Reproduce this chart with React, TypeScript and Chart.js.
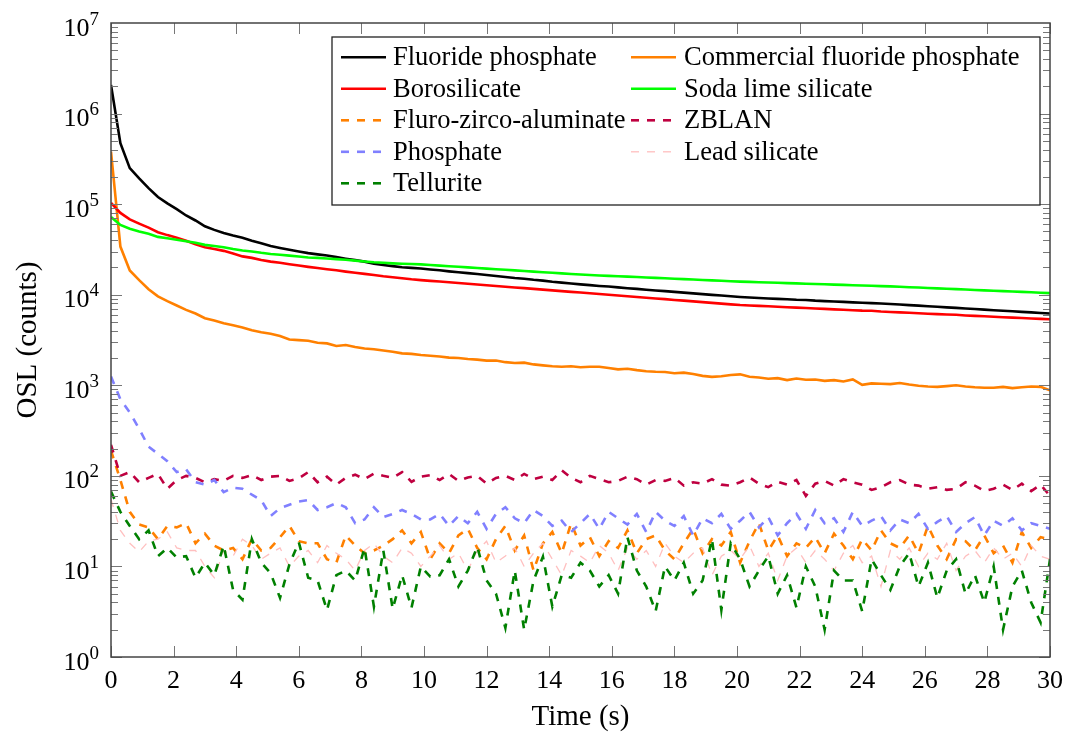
import React, { useEffect, useRef } from 'react';
import { Chart, registerables } from 'chart.js';

Chart.register(...registerables);

const FONT = "'Liberation Serif', 'Times New Roman', serif";

// sample times (s), one reading every 0.3 s
const TIME_S: number[] = Array.from({ length: 101 }, (_, i) => Math.round(i * 3) / 10);
const X_TICKS = [0, 2, 4, 6, 8, 10, 12, 14, 16, 18, 20, 22, 24, 26, 28, 30];
const Y_EXPONENTS = [0, 1, 2, 3, 4, 5, 6, 7];

const fluoridePhosphate = [
  2070000, 470000, 250000, 192000, 150000, 120000, 102000, 88000, 75000, 66000,
  57000, 52000, 48000, 45000, 42500, 39500, 37000, 34500, 32800, 31300,
  30000, 28800, 27900, 27100, 26000, 25000, 24100, 23200, 22000, 21300,
  20700, 20100, 19800, 19500, 19000, 18600, 18100, 17700, 17300, 16900,
  16500, 16100, 15700, 15300, 15000, 14600, 14300, 13900, 13600, 13300,
  13000, 12750, 12500, 12300, 12050, 11800, 11600, 11350, 11150, 10950,
  10750, 10550, 10350, 10150, 9950, 9800, 9600, 9450, 9300, 9200,
  9100, 9000, 8900, 8800, 8750, 8600, 8500, 8420, 8330, 8240,
  8150, 8070, 8000, 7900, 7790, 7680, 7570, 7460, 7350, 7250,
  7150, 7050, 6950, 6850, 6750, 6650, 6560, 6470, 6380, 6290,
  6200,
];

const commercialFluoridePhosphate = [
  380000, 34000, 18500, 14500, 11500, 9600, 8500, 7600, 6800, 6200,
  5500, 5200, 4850, 4600, 4350, 4050, 3850, 3700, 3500, 3200,
  3150, 3100, 2950, 2900, 2720, 2780, 2650, 2550, 2500, 2420,
  2350, 2250, 2220, 2160, 2120, 2080, 2020, 2000, 1950, 1920,
  1870, 1880, 1800, 1760, 1780, 1700, 1660, 1620, 1600, 1620,
  1580, 1600, 1600, 1550, 1500, 1520, 1470, 1430, 1410, 1400,
  1360, 1380, 1330, 1270, 1240, 1260, 1300, 1320, 1240, 1220,
  1180, 1200, 1140, 1190, 1150, 1160, 1120, 1140, 1100, 1160,
  1010, 1050, 1040, 1030, 1060, 1020, 990, 970, 960, 980,
  1000, 970, 950, 940, 940, 960, 930, 950, 970, 960,
  880,
];

const borosilicate = [
  103000, 80000, 68000, 61000, 55000, 49000, 45500, 42500, 39500, 36000,
  33500, 32000, 30500, 28500, 26500, 25500, 24200, 23200, 22500, 21700,
  21000, 20300, 19700, 19100, 18600, 18000, 17500, 17000, 16500, 16000,
  15600, 15200, 14800, 14500, 14230, 13970, 13710, 13460, 13210, 12960,
  12720, 12490, 12260, 12030, 11810, 11590, 11380, 11170, 10960, 10760,
  10560, 10360, 10170, 9980, 9800, 9620, 9440, 9270, 9100, 8930,
  8760, 8600, 8440, 8290, 8130, 7980, 7830, 7700, 7615, 7531,
  7448, 7366, 7285, 7205, 7126, 7048, 6970, 6893, 6818, 6743,
  6668, 6640, 6522, 6451, 6380, 6310, 6240, 6172, 6104, 6037,
  6000, 5905, 5840, 5776, 5712, 5649, 5587, 5526, 5465, 5405,
  5350,
];

const sodaLimeSilicate = [
  72000, 59000, 53500, 50000, 47000, 43500, 42000, 40500, 39000, 37500,
  35500, 34500, 33500, 32000, 30800, 30000, 29000, 28200, 27600, 27000,
  26400, 25800, 25500, 25100, 24700, 24300, 23800, 23300, 22800, 22500,
  22200, 22000, 21800, 21600, 21270, 20950, 20640, 20330, 20020, 19720,
  19420, 19130, 18840, 18560, 18280, 18000, 17730, 17460, 17200, 16940,
  16700, 16500, 16330, 16160, 15990, 15820, 15660, 15500, 15330, 15170,
  15010, 14860, 14700, 14550, 14400, 14250, 14100, 13950, 13850, 13740,
  13640, 13530, 13430, 13330, 13230, 13130, 13030, 12930, 12830, 12730,
  12640, 12540, 12450, 12350, 12230, 12110, 11990, 11870, 11750, 11630,
  11520, 11400, 11290, 11180, 11070, 10960, 10850, 10740, 10630, 10530,
  10400,
];

const fluroZircoAluminate = [
  190, 90, 40, 29, 27, 20, 28, 27, 30, 18,
  23, 17, 15, 16, 12, 20, 15, 16, 21, 28,
  19, 18, 18, 12, 11, 22, 17, 14, 15, 17,
  20, 25, 18, 24, 12, 18, 14, 22, 26, 16,
  12, 20, 28, 15, 22, 9, 18, 24, 14, 30,
  17, 21, 13, 19, 16, 25, 14, 20, 22, 15,
  12, 18, 26, 14, 20, 17, 24, 11, 19, 30,
  15, 22, 13, 18, 16, 21, 14, 23, 17, 12,
  20, 15, 25, 18, 16, 22, 14, 28, 17, 12,
  20, 19, 15, 22, 14, 17, 11, 24, 16, 21,
  20,
];

const zblan = [
  220, 100, 110, 85, 95, 105, 72, 90, 100, 95,
  85, 92, 88, 100, 95, 102, 90, 98, 100, 88,
  94, 110, 85, 98, 80, 95, 103, 92, 106, 100,
  95, 110, 86, 98, 102, 90, 105, 88, 96, 100,
  82, 95, 100, 90, 105, 92, 98, 90, 115, 95,
  85, 100, 92, 85, 88, 98, 92, 80, 90, 88,
  95, 78, 85, 82, 92, 80, 78, 85, 96, 82,
  75, 86, 80, 90, 60, 82, 88, 78, 92, 85,
  80, 70, 75, 85, 90, 80, 78, 72, 75, 70,
  72, 85, 78, 68, 72, 80, 70, 82, 68, 80,
  60,
];

const phosphate = [
  1250, 700, 500, 330, 210, 175, 145, 110, 118, 85,
  80, 90, 66, 74, 72, 62, 54, 36, 44, 48,
  52, 54, 42, 45, 50, 45, 30, 33, 45, 35,
  38, 42, 38, 33, 33, 38, 28, 36, 30, 40,
  26, 38, 45, 34, 30, 42, 36, 28, 32, 24,
  30, 38, 26, 40, 34, 29, 38, 24, 40, 32,
  28, 36, 22, 34, 30, 38, 26, 32, 40, 27,
  35, 22, 30, 38, 26, 42, 30, 34, 24, 40,
  28, 32, 36, 25, 33, 30, 38, 26, 31, 36,
  24, 30, 35, 22, 32, 28, 34, 25, 30, 28,
  26,
];

const leadSilicate = [
  55, 25, 18, 14.5, 19, 20, 24, 16, 15, 15,
  10, 7.5, 15, 13, 20, 17, 12, 14, 16, 10,
  13, 15, 11, 17, 14, 12, 9, 15, 18, 13,
  11, 16, 14, 10, 13, 17, 12, 14, 9, 15,
  19, 11, 13, 16, 10, 14, 18, 12, 8, 15,
  13, 11, 17, 14, 9, 16, 12, 15, 10, 18,
  13, 11, 14, 16, 8, 13, 15, 12, 17, 10,
  14, 7, 13, 16, 11, 15, 12, 9, 14, 17,
  11, 13, 6, 15, 12, 16, 10, 14, 12, 18,
  9, 13, 15, 11, 16, 12, 14, 10, 17, 13,
  12,
];

const tellurite = [
  67, 40, 28, 20, 25, 13, 16, 12.5, 13, 7.5,
  11, 8, 17, 5.5, 4.3, 20, 11, 8.4, 4.5, 10.5,
  18.5, 7.5, 7, 3.3, 8, 9, 7, 16, 3.6, 15,
  3.4, 8, 3.5, 10, 7.7, 8, 12, 6, 9, 16.5,
  7, 5, 2.1, 9, 2.0, 7, 12.8, 3.6, 8, 7.5,
  11, 9, 6, 8, 5, 21, 9, 6, 3.2, 10,
  7, 11, 5, 7, 20, 3.3, 18, 12, 6, 9,
  13, 5, 8, 3.5, 10, 6, 2.0, 9, 7, 7,
  3.2, 12, 8, 5.5, 10, 14, 6, 11, 4.5, 9,
  12, 5, 8, 4, 10, 2.0, 6, 9, 4, 2.4,
  12,
];

type Series = { label: string; values: number[]; color: string; dash: number[]; width: number };

const DASH = [8, 8];
const SERIES: Series[] = [
  { label: 'Fluoride phosphate', values: fluoridePhosphate, color: '#000000', dash: [], width: 2.6 },
  { label: 'Commercial fluoride phosphate', values: commercialFluoridePhosphate, color: '#ff8000', dash: [], width: 2.6 },
  { label: 'Borosilicate', values: borosilicate, color: '#ff0000', dash: [], width: 2.6 },
  { label: 'Soda lime silicate', values: sodaLimeSilicate, color: '#00ff00', dash: [], width: 2.6 },
  { label: 'Fluro-zirco-aluminate', values: fluroZircoAluminate, color: '#ff8000', dash: DASH, width: 2.6 },
  { label: 'ZBLAN', values: zblan, color: '#bf0040', dash: DASH, width: 2.6 },
  { label: 'Phosphate', values: phosphate, color: '#8080ff', dash: DASH, width: 2.6 },
  { label: 'Lead silicate', values: leadSilicate, color: '#ffbfbf', dash: DASH, width: 1.3 },
  { label: 'Tellurite', values: tellurite, color: '#008000', dash: DASH, width: 2.6 },
];

const LEGEND_BOX = { left: 332, top: 37, right: 1040, bottom: 205 };
const LEGEND_ROW0 = 57.3;
const LEGEND_ROW_STEP = 31.5;
const LEGEND_COLS = [
  { x0: 341, x1: 386, textX: 393 },
  { x0: 631, x1: 676, textX: 684 },
];

const decorPlugin = {
  id: 'decor',
  afterDraw(chart: any) {
    const { ctx, chartArea: a, scales } = chart;
    const xs = scales.x;
    const ys = scales.y;
    ctx.save();

    // inward ticks
    ctx.strokeStyle = '#777';
    ctx.lineWidth = 1;
    ctx.setLineDash([]);
    ctx.beginPath();
    for (const t of X_TICKS) {
      const px = Math.round(xs.getPixelForValue(t)) + 0.5;
      ctx.moveTo(px, a.bottom);
      ctx.lineTo(px, a.bottom - 11);
      ctx.moveTo(px, a.top);
      ctx.lineTo(px, a.top + 11);
    }
    for (let e = 0; e < 7; e++) {
      for (let m = 1; m <= 9; m++) {
        const py = Math.round(ys.getPixelForValue(m * Math.pow(10, e))) + 0.5;
        const len = m === 1 ? 11 : 7;
        ctx.moveTo(a.left, py);
        ctx.lineTo(a.left + len, py);
        ctx.moveTo(a.right, py);
        ctx.lineTo(a.right - len, py);
      }
    }
    ctx.stroke();

    // frame
    ctx.strokeStyle = '#444';
    ctx.lineWidth = 1.5;
    ctx.strokeRect(a.left, a.top, a.right - a.left, a.bottom - a.top);

    // y tick labels 10^n
    ctx.fillStyle = '#000';
    ctx.textAlign = 'right';
    ctx.textBaseline = 'alphabetic';
    for (const e of Y_EXPONENTS) {
      const py = ys.getPixelForValue(Math.pow(10, e));
      const exp = String(e);
      ctx.font = `19px ${FONT}`;
      const w = ctx.measureText(exp).width;
      ctx.fillText(exp, a.left - 12, py + 1.5);
      ctx.font = `26px ${FONT}`;
      ctx.fillText('10', a.left - 12 - w, py + 12.5);
    }

    // legend
    const L = LEGEND_BOX;
    ctx.fillStyle = '#fff';
    ctx.fillRect(L.left, L.top, L.right - L.left, L.bottom - L.top);
    ctx.strokeStyle = '#222';
    ctx.lineWidth = 1.3;
    ctx.strokeRect(L.left, L.top, L.right - L.left, L.bottom - L.top);
    ctx.textAlign = 'left';
    ctx.font = `26.5px ${FONT}`;
    SERIES.forEach((s, i) => {
      const col = LEGEND_COLS[i % 2];
      const rowY = LEGEND_ROW0 + Math.floor(i / 2) * LEGEND_ROW_STEP;
      ctx.strokeStyle = s.color;
      ctx.lineWidth = s.width;
      ctx.setLineDash(s.dash);
      ctx.beginPath();
      ctx.moveTo(col.x0, rowY);
      ctx.lineTo(col.x1, rowY);
      ctx.stroke();
      ctx.setLineDash([]);
      ctx.fillStyle = '#000';
      ctx.fillText(s.label, col.textX, rowY + 8);
    });
    ctx.restore();
  },
};

export default function App() {
  const canvasRef = useRef<HTMLCanvasElement | null>(null);

  useEffect(() => {
    const canvas = canvasRef.current;
    if (!canvas) return;
    const n = SERIES.length;
    const chart = new Chart(canvas, {
      type: 'line',
      data: {
        datasets: SERIES.map((s, i) => ({
          label: s.label,
          data: s.values.map((v, k) => ({ x: TIME_S[k], y: v })),
          borderColor: s.color,
          backgroundColor: s.color,
          borderWidth: s.width,
          borderDash: s.dash,
          borderCapStyle: 'butt',
          borderJoinStyle: 'miter',
          pointRadius: 0,
          pointHoverRadius: 0,
          fill: false,
          tension: 0,
          order: n - 1 - i,
        })),
      },
      options: {
        responsive: false,
        animation: false,
        devicePixelRatio: 1,
        events: [],
        layout: { padding: { top: 23, right: 16, bottom: 0, left: 0 } },
        plugins: {
          legend: { display: false },
          tooltip: { enabled: false },
        },
        scales: {
          x: {
            type: 'linear',
            min: 0,
            max: 30,
            ticks: {
              stepSize: 2,
              font: { family: FONT, size: 26 },
              color: '#000',
              padding: 9,
              maxRotation: 0,
              autoSkip: false,
            },
            grid: { display: false, drawTicks: false },
            border: { display: false },
            title: {
              display: true,
              text: 'Time (s)',
              font: { family: FONT, size: 29 },
              color: '#000',
              padding: { top: 0, bottom: 2 },
            },
            afterFit: (s: any) => {
              s.height = 80;
              s.paddingLeft = 0;
              s.paddingRight = 0;
            },
          },
          y: {
            type: 'logarithmic',
            min: 1,
            max: 1e7,
            ticks: { display: false },
            grid: { display: false, drawTicks: false },
            border: { display: false },
            title: {
              display: true,
              text: 'OSL (counts)',
              font: { family: FONT, size: 29 },
              color: '#000',
              padding: { top: 11, bottom: 0 },
            },
            afterFit: (s: any) => {
              s.width = 111;
              s.paddingTop = 0;
              s.paddingBottom = 0;
            },
          },
        },
      } as any,
      plugins: [decorPlugin],
    });
    return () => chart.destroy();
  }, []);

  return (
    <div style={{ position: 'absolute', left: 0, top: 0, width: 1066, height: 737, overflow: 'hidden', background: '#fff' }}>
      <canvas ref={canvasRef} width={1066} height={737} style={{ display: 'block' }} />
    </div>
  );
}
